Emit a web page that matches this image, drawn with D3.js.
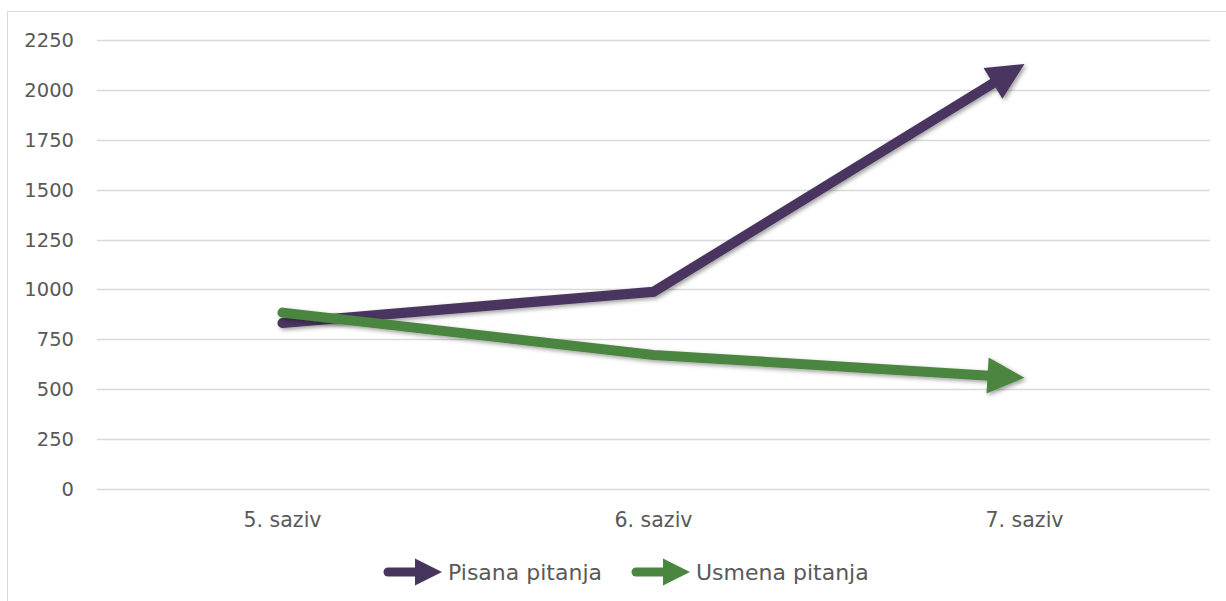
<!DOCTYPE html>
<html>
<head>
<meta charset="utf-8">
<script src="https://cdn.jsdelivr.net/npm/d3@7"></script>
<style>
  body { margin: 0; background: #fff; }
  text { font-family: "DejaVu Sans", sans-serif; fill: #595959; }
</style>
</head>
<body>
<script>
const width = 1226, height = 601;

// chart data
const categories = ["5. saziv", "6. saziv", "7. saziv"];
const pisana = [832, 988, 2130];
const usmena = [884, 672, 557];
const yTicks = [0, 250, 500, 750, 1000, 1250, 1500, 1750, 2000, 2250];
const seriesNames = ["Pisana pitanja", "Usmena pitanja"];
const seriesColors = ["#48355e", "#4b8641"];

const margin = {left: 97, right: 16, top: 40, bottom: 112};

const svg = d3.select("body")
	.append("svg")
	.attr("width", width)
	.attr("height", height);

const defs = svg.append("defs");
defs.append("filter")
	.attr("id", "shadow")
	.attr("x", "-20%").attr("y", "-20%")
	.attr("width", "140%").attr("height", "140%")
	.append("feDropShadow")
	.attr("dx", 2).attr("dy", 2)
	.attr("stdDeviation", 2.2)
	.attr("flood-color", "#000")
	.attr("flood-opacity", 0.38);

// outer border of the chart area
svg.append("rect")
	.attr("x", 7.5).attr("y", 11.5)
	.attr("width", 1240).attr("height", 620)
	.attr("fill", "none")
	.attr("stroke", "#d9d9d9");

const x = d3.scalePoint()
	.domain(categories)
	.range([margin.left, width - margin.right])
	.padding(0.5);

const y = d3.scaleLinear()
	.domain([0, 2250])
	.range([height - margin.bottom, margin.top]);

// gridlines
svg.append("g")
	.selectAll("line")
	.data(yTicks)
	.enter()
	.append("line")
	.attr("x1", margin.left)
	.attr("x2", width - margin.right)
	.attr("y1", d => Math.round(y(d)) + 0.5)
	.attr("y2", d => Math.round(y(d)) + 0.5)
	.attr("stroke", "#d9d9d9")
	.attr("stroke-width", 1.3);

// y labels
svg.append("g")
	.selectAll("text")
	.data(yTicks)
	.enter()
	.append("text")
	.attr("x", 74)
	.attr("y", d => y(d))
	.attr("dy", "0.36em")
	.attr("text-anchor", "end")
	.attr("font-size", "19.5px")
	.text(d => d);

// x labels
svg.append("g")
	.selectAll("text")
	.data(categories)
	.enter()
	.append("text")
	.attr("x", d => x(d))
	.attr("y", y(0) + 38)
	.attr("text-anchor", "middle")
	.attr("font-size", "20.5px")
	.text(d => d);

// draws a polyline with an arrowhead on its end, tip at the last point
function arrowLine(g, pts, color, lw, headLen, headW) {
	const n = pts.length;
	const [x0, y0] = pts[n - 2];
	const [x1, y1] = pts[n - 1];
	const len = Math.hypot(x1 - x0, y1 - y0);
	const ux = (x1 - x0) / len, uy = (y1 - y0) / len;
	const bx = x1 - ux * (headLen - 2), by = y1 - uy * (headLen - 2);
	const linePts = pts.slice(0, n - 1).concat([[bx, by]]);
	g.append("path")
		.attr("d", d3.line()(linePts))
		.attr("fill", "none")
		.attr("stroke", color)
		.attr("stroke-width", lw)
		.attr("stroke-linecap", "round")
		.attr("stroke-linejoin", "miter");
	const hx = x1 - ux * headLen, hy = y1 - uy * headLen;
	const px = -uy * headW / 2, py = ux * headW / 2;
	g.append("path")
		.attr("d", d3.line()([[x1, y1], [hx + px, hy + py], [hx - px, hy - py]]) + "Z")
		.attr("fill", color);
}

const seriesData = [pisana, usmena];
seriesData.forEach((vals, i) => {
	const g = svg.append("g").attr("filter", "url(#shadow)");
	const pts = vals.map((v, j) => [x(categories[j]), y(v)]);
	arrowLine(g, pts, seriesColors[i], 10, 37, 36);
});

// legend
const legendX = [388, 636];
const legendY = 572;
seriesNames.forEach((name, i) => {
	const g = svg.append("g");
	arrowLine(g, [[legendX[i], legendY], [legendX[i] + 54, legendY]], seriesColors[i], 9, 27, 27);
	g.append("text")
		.attr("x", legendX[i] + 60)
		.attr("y", legendY)
		.attr("dy", "0.36em")
		.attr("font-size", "22px")
		.text(name);
});
</script>
</body>
</html>
